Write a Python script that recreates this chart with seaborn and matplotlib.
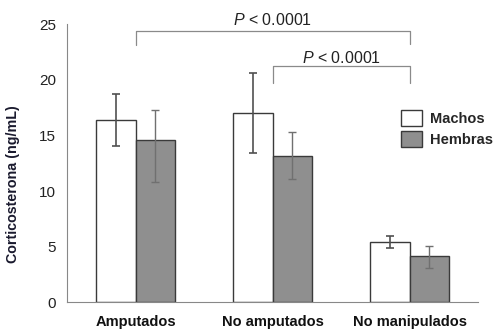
import matplotlib
matplotlib.use("Agg")
import matplotlib.pyplot as plt
import seaborn as sns
import pandas as pd
import numpy as np
from matplotlib.patches import Patch

categories = ["Amputados", "No amputados", "No manipulados"]
sexes = ["Machos", "Hembras"]
machos = [16.4, 17.05, 5.4]
hembras = [14.55, 13.15, 4.15]
machos_err_low = [2.4, 3.6, 0.55]
machos_err_high = [2.3, 3.55, 0.6]
hembras_err_low = [3.7, 2.1, 1.05]
hembras_err_high = [2.75, 2.15, 0.95]
yticks = [0, 5, 10, 15, 20, 25]
ptext = "$P$ < 0.0001"

sns.set_style("white")
plt.rcParams['font.family'] = ['Liberation Sans', 'DejaVu Sans']
plt.rcParams['mathtext.fontset'] = 'custom'
plt.rcParams['mathtext.it'] = 'Liberation Sans:italic'
plt.rcParams['mathtext.rm'] = 'Liberation Sans'

df = pd.DataFrame({
    "cat": categories * 2,
    "sexo": [sexes[0]] * 3 + [sexes[1]] * 3,
    "val": machos + hembras,
})

fig = plt.figure(figsize=(4.97, 3.30), dpi=100)
ax = fig.add_axes([0.135, 0.084, 0.827, 0.843])

sns.barplot(data=df, x="cat", y="val", hue="sexo", order=categories,
            hue_order=sexes, palette={"Machos": "#ffffff", "Hembras": "#8f8f8f"},
            width=0.58, gap=0, errorbar=None, edgecolor="#3a3a3a", linewidth=1.0,
            ax=ax, legend=False, saturation=1)

patches = list(ax.patches)
pm = patches[:3]
ph = patches[3:6]
xm = [p.get_x() + p.get_width() / 2 for p in pm]
xh = [p.get_x() + p.get_width() / 2 for p in ph]
ax.errorbar(xm, machos, yerr=[machos_err_low, machos_err_high], fmt="none",
            ecolor="#505050", elinewidth=1.2, capsize=3, capthick=1.2)
ax.errorbar(xh, hembras, yerr=[hembras_err_low, hembras_err_high], fmt="none",
            ecolor="#707070", elinewidth=1.0, capsize=3, capthick=1.0)

ax.set_xlim(-0.5, 2.5)
ax.set_ylim(0, 25)
ax.set_yticks(yticks)
ax.set_yticklabels([str(t) for t in yticks], fontsize=11, color="#222222")
ax.set_xticks([0, 1, 2])
ax.set_xticklabels(categories, fontsize=10.5, fontweight="bold", color="#111111")
ax.tick_params(axis="x", length=0, pad=9)
ax.tick_params(axis="y", length=3, color="#888888", width=0.8, direction="out", pad=5)
ax.set_xticks([-0.5, 0.5, 1.5, 2.5], minor=True)
ax.tick_params(axis="x", which="minor", length=5, color="#aaaaaa", width=0.8, direction="out")
ax.set_xlabel("")
ax.set_ylabel("Corticosterona (ng/mL)", fontsize=10.3, fontweight="bold", color="#1a1a2e")
ax.yaxis.set_label_coords(-0.115, 0.425)

for s in ["top", "right"]:
    ax.spines[s].set_visible(False)
for s in ["left", "bottom"]:
    ax.spines[s].set_color("#888888")
    ax.spines[s].set_linewidth(0.8)

bc = "#8a8a8a"
ax.plot([0, 0, 2, 2], [23.1, 24.4, 24.4, 23.2], color=bc, lw=0.9, clip_on=False)
ax.text(1.0, 24.9, ptext, ha="center", va="baseline", fontsize=11.5, color="#222222", clip_on=False)
ax.plot([1, 1, 2, 2], [19.7, 21.2, 21.2, 19.7], color=bc, lw=0.9, clip_on=False)
ax.text(1.5, 21.5, ptext, ha="center", va="baseline", fontsize=11.5, color="#222222")

handles = [Patch(facecolor="#ffffff", edgecolor="#3a3a3a", lw=1.0),
           Patch(facecolor="#8f8f8f", edgecolor="#3a3a3a", lw=1.0)]
leg = ax.legend(handles, sexes, loc="upper left", bbox_to_anchor=(0.78, 0.74),
                frameon=False, handlelength=1.43, handleheight=1.38, handletextpad=0.55,
                labelspacing=0.3, prop={"weight": "bold", "size": 10.5})

fig.savefig("out.png", dpi=100)
